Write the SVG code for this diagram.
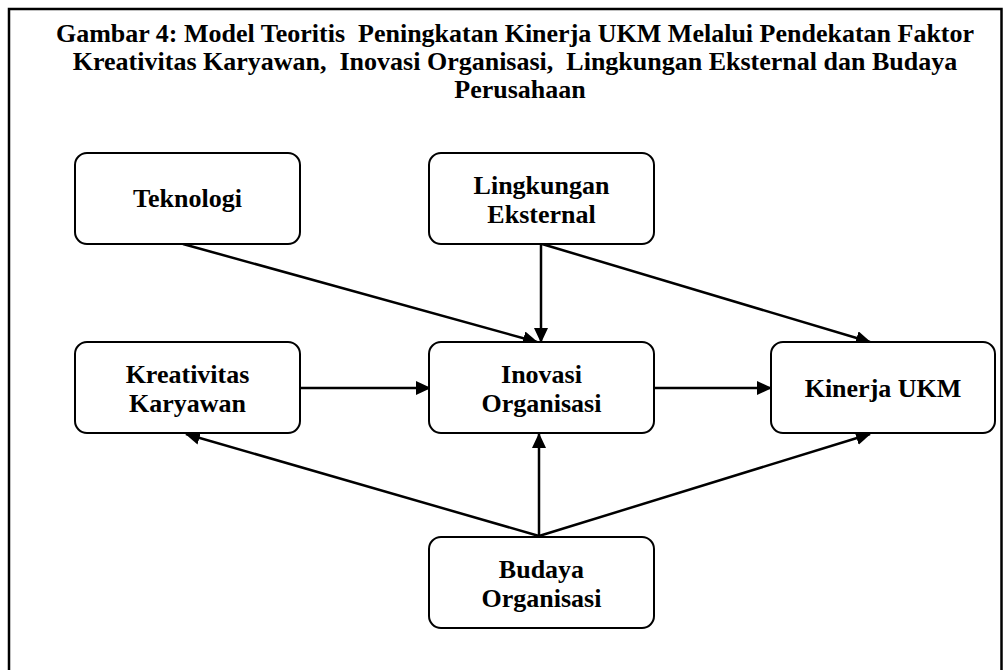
<svg xmlns="http://www.w3.org/2000/svg" width="1003" height="670" viewBox="0 0 1003 670">
  <style>
    .t { font-family: "Liberation Serif", "Times New Roman", serif; font-weight: bold; font-size: 26px; fill: #000; text-anchor: middle; white-space: pre; }
    .box { fill: #fff; stroke: #000; stroke-width: 2; }
    .edge { stroke: #000; stroke-width: 2.5; fill: none; marker-end: url(#arrow); }
  </style>
  <defs>
    <marker id="arrow" markerUnits="userSpaceOnUse" markerWidth="16" markerHeight="14" refX="14" refY="7" orient="auto">
      <path d="M0,0 L15,7 L0,14 z" fill="#000"/>
    </marker>
  </defs>
  <rect width="1003" height="670" fill="#fff"/>
  <path d="M9,690 V9 H1001.5 V690" fill="none" stroke="#000" stroke-width="2.5"/>

  <g id="title">
    <text class="t" x="515" y="42">Gambar 4: Model Teoritis  Peningkatan Kinerja UKM Melalui Pendekatan Faktor</text>
    <text class="t" x="515" y="70">Kreativitas Karyawan,  Inovasi Organisasi,  Lingkungan Eksternal dan Budaya</text>
    <text class="t" x="520" y="98">Perusahaan</text>
  </g>

  <g id="connectors">
    <line class="edge" x1="183" y1="244" x2="537" y2="342"/>
    <line class="edge" x1="541" y1="244" x2="541" y2="342"/>
    <line class="edge" x1="542" y1="244" x2="870" y2="342"/>
    <line class="edge" x1="300" y1="388" x2="430" y2="388"/>
    <line class="edge" x1="654" y1="388" x2="771" y2="388"/>
    <line class="edge" x1="539" y1="536" x2="186" y2="434"/>
    <line class="edge" x1="539" y1="536" x2="539" y2="434"/>
    <line class="edge" x1="539" y1="536" x2="870" y2="434"/>
  </g>

  <g id="teknologi">
    <rect class="box" x="75" y="153" width="225" height="91" rx="12"/>
    <text class="t" x="187.5" y="207">Teknologi</text>
  </g>
  <g id="lingkungan-eksternal">
    <rect class="box" x="429" y="153" width="225" height="91" rx="12"/>
    <text class="t" x="541.5" y="194">Lingkungan</text>
    <text class="t" x="541.5" y="223">Eksternal</text>
  </g>
  <g id="kreativitas-karyawan">
    <rect class="box" x="75" y="342" width="225" height="91" rx="12"/>
    <text class="t" x="187.5" y="383">Kreativitas</text>
    <text class="t" x="187.5" y="412">Karyawan</text>
  </g>
  <g id="inovasi-organisasi">
    <rect class="box" x="429" y="342" width="225" height="91" rx="12"/>
    <text class="t" x="541.5" y="383">Inovasi</text>
    <text class="t" x="541.5" y="412">Organisasi</text>
  </g>
  <g id="kinerja-ukm">
    <rect class="box" x="771" y="342" width="224" height="91" rx="12"/>
    <text class="t" x="883" y="397">Kinerja UKM</text>
  </g>
  <g id="budaya-organisasi">
    <rect class="box" x="429" y="537" width="225" height="91" rx="12"/>
    <text class="t" x="541.5" y="578">Budaya</text>
    <text class="t" x="541.5" y="607">Organisasi</text>
  </g>
</svg>
